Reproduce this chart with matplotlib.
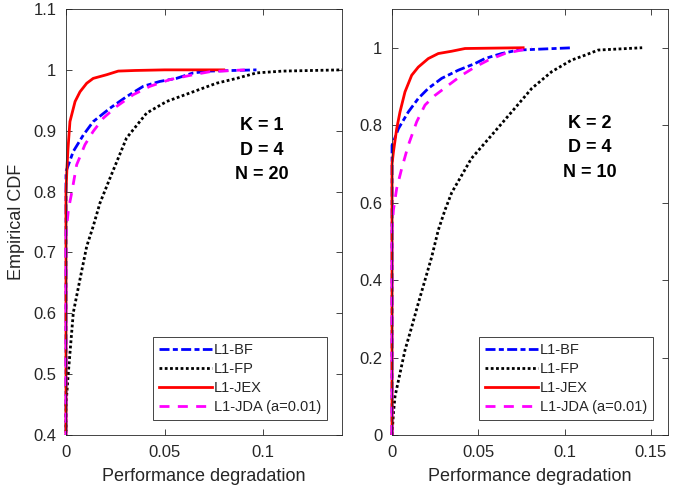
import matplotlib
matplotlib.use('Agg')
import matplotlib.pyplot as plt
from matplotlib.ticker import FuncFormatter
from matplotlib.patches import Rectangle

plt.rcParams['font.family'] = ['Liberation Sans', 'DejaVu Sans']

# Left panel: K = 1, D = 4, N = 20
bf1_x = [0, 0, 0.0037, 0.0088, 0.0138, 0.0223, 0.0307, 0.0392, 0.0476, 0.056, 0.0645, 0.073, 0.0966]
bf1_y = [0, 0.833, 0.866, 0.893, 0.915, 0.937, 0.956, 0.973, 0.981, 0.986, 0.995, 0.998, 1.0]
fp1_x = [0, 0, 0.0012, 0.0037, 0.0071, 0.0105, 0.0138, 0.0172, 0.0223, 0.0265, 0.0307, 0.0409,
         0.051, 0.0645, 0.0763, 0.0865, 0.0966, 0.11, 0.14]
fp1_y = [0, 0.45, 0.503, 0.601, 0.656, 0.710, 0.743, 0.781, 0.822, 0.855, 0.888, 0.929,
         0.948, 0.964, 0.978, 0.986, 0.995, 0.998, 1.0]
jex1_x = [0, 0, 0.0005, 0.001, 0.002, 0.0046, 0.0071, 0.0105, 0.0138, 0.0206, 0.0265, 0.035, 0.05, 0.08]
jex1_y = [0, 0.80, 0.84, 0.87, 0.915, 0.948, 0.964, 0.978, 0.986, 0.992, 0.998, 0.999, 1.0, 1.0]
jda1_x = [0, 0, 0.0012, 0.003, 0.0054, 0.0096, 0.0138, 0.019, 0.0257, 0.034, 0.0426, 0.0527,
          0.0645, 0.073, 0.0907]
jda1_y = [0, 0.73, 0.77, 0.80, 0.844, 0.877, 0.899, 0.921, 0.94, 0.959, 0.973, 0.984,
          0.992, 0.997, 1.0]

# Right panel: K = 2, D = 4, N = 10
bf2_x = [0, 0, 0.0037, 0.0094, 0.0152, 0.021, 0.0288, 0.0384, 0.048, 0.0538, 0.0635, 0.0731, 0.105]
bf2_y = [0, 0.748, 0.791, 0.834, 0.869, 0.895, 0.921, 0.942, 0.959, 0.972, 0.985, 0.994, 1.0]
fp2_x = [0, 0.0008, 0.0017, 0.0046, 0.0075, 0.0114, 0.0152, 0.0191, 0.023, 0.0268, 0.0307, 0.0346,
         0.046, 0.0577, 0.0693, 0.081, 0.0925, 0.104, 0.112, 0.1195, 0.145]
fp2_y = [0, 0.056, 0.099, 0.159, 0.219, 0.279, 0.340, 0.40, 0.46, 0.529, 0.581, 0.626,
         0.714, 0.774, 0.834, 0.895, 0.938, 0.968, 0.981, 0.994, 1.0]
jex2_x = [0, 0, 0.0008, 0.0027, 0.0046, 0.0075, 0.0114, 0.0152, 0.021, 0.0268, 0.0346, 0.0423, 0.076]
jex2_y = [0, 0.70, 0.731, 0.791, 0.834, 0.886, 0.929, 0.950, 0.972, 0.985, 0.991, 0.998, 1.0]
jda2_x = [0, 0, 0.0008, 0.0027, 0.0056, 0.0094, 0.0143, 0.0191, 0.0249, 0.0326, 0.0404, 0.048,
          0.0558, 0.0654, 0.075, 0.081]
jda2_y = [0, 0.529, 0.581, 0.637, 0.688, 0.748, 0.809, 0.852, 0.877, 0.903, 0.929, 0.950,
          0.968, 0.985, 0.994, 1.0]

labels = ['L1-BF', 'L1-FP', 'L1-JEX', 'L1-JDA (a=0.01)']
panel_text = ['K = 1\nD = 4\nN = 20', 'K = 2\nD = 4\nN = 10']

axis_gray = '#262626'

fig = plt.figure(figsize=(6.89, 4.95), dpi=100)
ax1 = fig.add_axes([0.0958, 0.1212, 0.4006, 0.8606])
ax2 = fig.add_axes([0.569, 0.1212, 0.4006, 0.8606])


def draw_panel(ax, bf, fp, jex, jda):
    lines = []
    lines += ax.plot(bf[0], bf[1], color='#0000ff', lw=2, dashes=(3.6, 1.2, 1.8, 1.2), label=labels[0])
    lines += ax.plot(fp[0], fp[1], color='black', lw=2, dashes=(1, 0.9), label=labels[1])
    lines += ax.plot(jex[0], jex[1], color='#ff0000', lw=2, label=labels[2])
    lines += ax.plot(jda[0], jda[1], color='#ff00ff', lw=2, dashes=(3.6, 3.0), label=labels[3])
    # let the vertical part at x = 0 show at full width
    clip = Rectangle((-0.02, 0), 1.04, 1.02, transform=ax.transAxes, visible=False)
    ax.add_patch(clip)
    for ln in lines:
        ln.set_clip_path(clip)
    ax.tick_params(direction='in', top=True, right=True, length=4, width=0.6,
                   colors=axis_gray, labelsize=12, pad=7)
    for s in ax.spines.values():
        s.set_color(axis_gray)
        s.set_linewidth(0.6)
    ax.xaxis.set_major_formatter(FuncFormatter(lambda v, p: '%g' % round(v, 4)))
    ax.yaxis.set_major_formatter(FuncFormatter(lambda v, p: '%g' % round(v, 4)))
    ax.set_xlabel('Performance degradation', fontsize=13, color=axis_gray, labelpad=6)
    leg = ax.legend(loc='lower right', bbox_to_anchor=(0.945, 0.035), fontsize=10.5,
                    handlelength=3.6, handletextpad=0.15, labelspacing=0.35,
                    borderpad=0.4, borderaxespad=0, fancybox=False, framealpha=1)
    leg.get_frame().set_edgecolor(axis_gray)
    leg.get_frame().set_linewidth(0.6)
    for t in leg.get_texts():
        t.set_color(axis_gray)


draw_panel(ax1, (bf1_x, bf1_y), (fp1_x, fp1_y), (jex1_x, jex1_y), (jda1_x, jda1_y))
draw_panel(ax2, (bf2_x, bf2_y), (fp2_x, fp2_y), (jex2_x, jex2_y), (jda2_x, jda2_y))

ax1.set_xlim(0, 0.14)
ax1.set_ylim(0.4, 1.1)
ax1.set_xticks([0, 0.05, 0.1])
ax1.set_yticks([0.4, 0.5, 0.6, 0.7, 0.8, 0.9, 1.0, 1.1])
ax1.set_ylabel('Empirical CDF', fontsize=13, color=axis_gray, labelpad=6)

ax2.set_xlim(0, 0.16)
ax2.set_ylim(0, 1.1)
ax2.set_xticks([0, 0.05, 0.1, 0.15])
ax2.set_yticks([0, 0.2, 0.4, 0.6, 0.8, 1.0])

ax1.text(0.71, 0.669, panel_text[0], transform=ax1.transAxes, ha='center', va='center',
         fontsize=13, fontweight='bold', linespacing=1.6)
ax2.text(0.717, 0.674, panel_text[1], transform=ax2.transAxes, ha='center', va='center',
         fontsize=13, fontweight='bold', linespacing=1.6)

fig.savefig('out.png', dpi=100)
